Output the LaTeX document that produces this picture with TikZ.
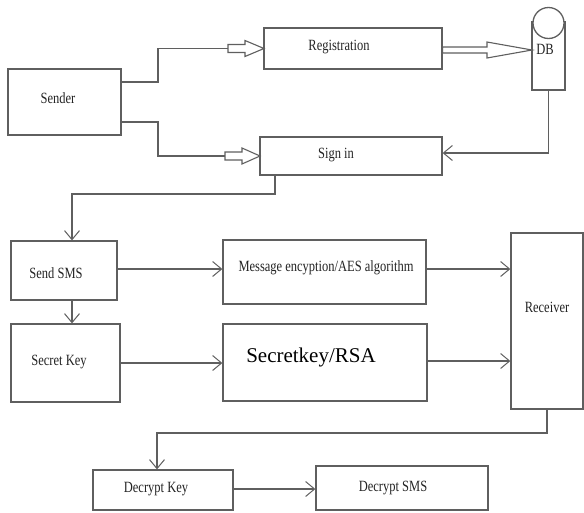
\documentclass[tikz,border=0pt]{standalone}
\usepackage{fontspec}
\setmainfont{Liberation Serif}
\usetikzlibrary{arrows.meta,calc}
\definecolor{ln}{RGB}{95,95,95}
\definecolor{tx}{RGB}{35,35,35}
\newcommand{\tallt}[1]{\scalebox{1}[1.25]{#1}}
\begin{document}
\begin{tikzpicture}[x=1pt,y=-1pt,
  box/.style={draw=ln,line width=1.3pt,rectangle,inner sep=0pt},
  lbl/.style={text=tx,font=\fontsize{12.5}{14}\selectfont,inner sep=0pt},
  conn/.style={draw=ln,line width=1.2pt},
  barb/.style={conn,-{Straight Barb[length=9pt,width=15pt,line width=1pt]}},
  blockar/.style={draw=ln,line width=1.1pt,fill=white,line join=miter}]
\useasboundingbox (0,0) rectangle (584,512);
% boxes
\node[box,minimum width=113pt,minimum height=66pt] (sender) at (64.5,102) {};
\node[box,minimum width=178pt,minimum height=41pt] (reg) at (353,48.5) {};
\node[box,minimum width=182pt,minimum height=38pt] (signin) at (351,156) {};
\node[box,minimum width=33pt,minimum height=68pt] (db) at (548.5,56) {};
\node[draw=ln,line width=1.3pt,fill=white,circle,minimum size=31pt,inner sep=0pt] (dbtop) at (548.5,23) {};
\node[box,minimum width=106pt,minimum height=59pt] (sendsms) at (64,270.5) {};
\node[box,minimum width=109pt,minimum height=78pt] (secret) at (65.5,363) {};
\node[box,minimum width=203pt,minimum height=64pt] (msg) at (324.5,272) {};
\node[box,minimum width=204pt,minimum height=77pt] (rsa) at (325,362.5) {};
\node[box,minimum width=72pt,minimum height=176pt] (recv) at (547,321) {};
\node[box,minimum width=140pt,minimum height=40pt] (dkey) at (163,490) {};
\node[box,minimum width=172pt,minimum height=44pt] (dsms) at (402,488) {};
% labels
\node[lbl] (tsender) at (58,98) {\tallt{Sender}};
\node[lbl] (treg) at (339,47) {\tallt{Registration}};
\node[lbl] (tsign) at (336,155) {\tallt{Sign in}};
\node[lbl] (tdb) at (545,49) {\tallt{DB}};
\node[lbl] (tsend) at (56,273) {\tallt{Send SMS}};
\node[lbl] (tmsg) at (326,268) {\tallt{Message encyption/AES algorithm}};
\node[lbl] (tsecret) at (59,362) {\tallt{Secret Key}};
\node[text=black,inner sep=0pt,font=\fontsize{21}{24}\selectfont] (trsa) at (311,357) {Secretkey/RSA};
\node[lbl] (trecv) at (547,307) {\tallt{Receiver}};
\node[lbl] (tdkey) at (156,489) {\tallt{Decrypt Key}};
\node[lbl] (tdsms) at (393,488) {\tallt{Decrypt SMS}};
% coordinates
\coordinate (regin) at (264,48.5);
\coordinate (signinin) at (260,156);
\coordinate (dbin) at (532,50);
% sender -> registration
\draw[conn] (sender.east) ++(0,-20) -| (158,48.5) -- ($(regin)+(-36,0)$);
\draw[blockar] (regin) -- ++(-19,-8) -- ++(0,4) -- ++(-17,0) -- ++(0,8) -- ++(17,0) -- ++(0,4) -- cycle;
% sender -> sign in
\draw[conn] (sender.east) ++(0,20) -| (158,156) -- ($(signinin)+(-35,0)$);
\draw[blockar] (signinin) -- ++(-18,-8) -- ++(0,4) -- ++(-17,0) -- ++(0,8) -- ++(17,0) -- ++(0,4) -- cycle;
% registration -> DB
\draw[blockar] (dbin) -- ++(-45,-8) -- ++(0,5) -- (reg.east |- 0,47) -- (reg.east |- 0,53) -- (487,53) -- (487,58) -- cycle;
% DB -> sign in
\draw[barb] (db.south) |- (signin.east |- 0,153);
% sign in -> send sms
\draw[barb] (signin.south -| 275,0) |- (72,194) -- (sendsms.north -| 72,0);
% send sms -> msg -> receiver
\draw[barb] (sendsms.east |- 0,269) -- (msg.west |- 0,269);
\draw[barb] (msg.east |- 0,269) -- (recv.west |- 0,269);
\draw[barb] (sendsms.south -| 72,0) -- (secret.north -| 72,0);
\draw[barb] (secret.east |- 0,363) -- (rsa.west |- 0,363);
\draw[barb] (rsa.east |- 0,361) -- (recv.west |- 0,361);
% receiver -> decrypt key -> decrypt sms
\draw[barb] (recv.south) |- (157,433) -- (dkey.north -| 157,0);
\draw[barb] (dkey.east |- 0,489) -- (dsms.west |- 0,489);
\end{tikzpicture}
\end{document}
